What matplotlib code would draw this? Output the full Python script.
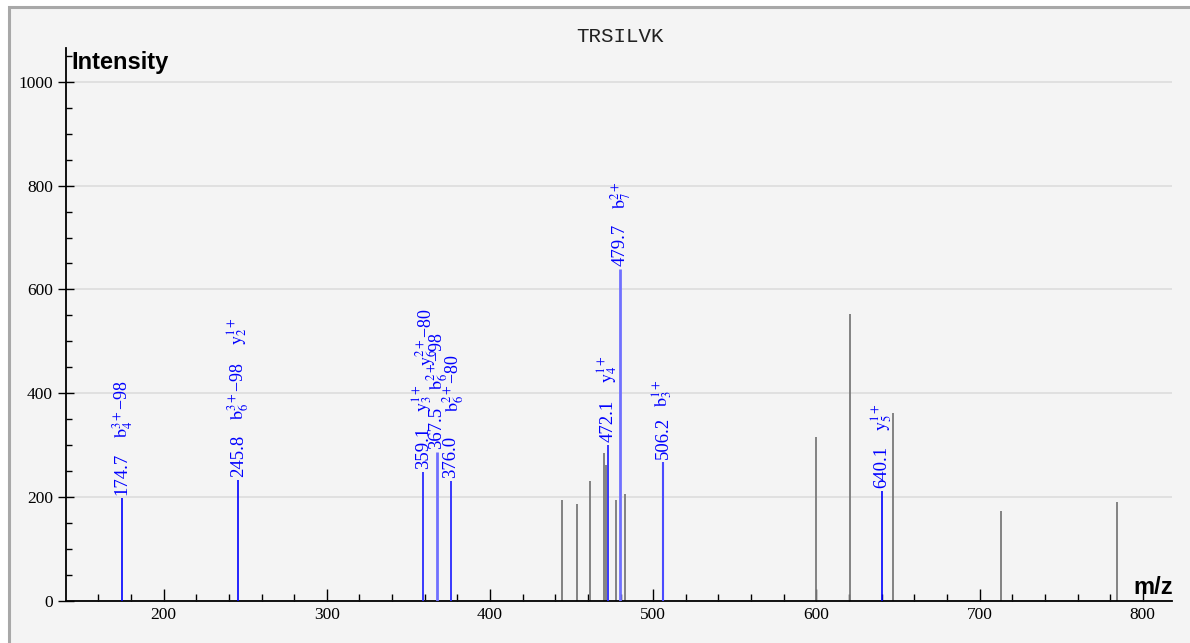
import matplotlib
matplotlib.use('Agg')
import matplotlib.pyplot as plt
from matplotlib.patches import Rectangle
from matplotlib.ticker import MultipleLocator

plt.rcParams['font.family'] = ['Liberation Serif', 'DejaVu Serif']
plt.rcParams['mathtext.fontset'] = 'stix'

# annotated (matched) peaks
mz_annot = [174.7, 245.8, 359.1, 367.5, 376.0, 472.1, 479.7, 506.2, 640.1]
int_annot = [199, 233, 248, 286, 231, 300, 640, 268, 212]
ion_labels = [
    ['$\\mathrm{b}_{4}^{3+}$\u221298'],
    ['$\\mathrm{b}_{6}^{3+}$\u221298', '$\\mathrm{y}_{2}^{1+}$'],
    ['$\\mathrm{y}_{3}^{1+}$'],
    ['$\\mathrm{b}_{6}^{2+}$\u221298', '$\\mathrm{y}_{6}^{2+}$\u221280'],
    ['$\\mathrm{b}_{6}^{2+}$\u221280'],
    ['$\\mathrm{y}_{4}^{1+}$'],
    ['$\\mathrm{b}_{7}^{2+}$'],
    ['$\\mathrm{b}_{3}^{1+}$'],
    ['$\\mathrm{y}_{5}^{1+}$'],
]

# unmatched peaks
mz_other = [443.9, 453.1, 461.1, 469.9, 471.0, 477.0, 482.7, 599.7, 620.8, 646.8, 713.0, 784.2]
int_other = [195, 187, 232, 285, 261, 195, 207, 316, 552, 363, 174, 191]

peptide = 'TRSILVK'

# label placement in pixels above the peak top (style only)
label_offsets = [
    [(0, 60)],
    [(0, 60), (0, 135)],
    [(0, 60)],
    [(0, 62), (-11, 86)],
    [(2, 69)],
    [(0, 62)],
    [(0, 60)],
    [(0, 55)],
    [(0, 60)],
]
line_colors = ['#0000ff', '#0000ff', '#2a2aff', '#7070ff', '#2a2aff',
               '#2a2aff', '#7070ff', '#4a4aff', '#0000ff']
line_widths = [1.2, 1.2, 1.3, 2.0, 1.3, 1.3, 2.0, 1.5, 1.2]

W, H = 1190, 643
fig = plt.figure(figsize=(W / 100, H / 100), dpi=100, facecolor='white')

# panel background with grey border (left/top visible)
bg = Rectangle((8.5 / W, -0.05), 1.1, (H - 6.5) / H + 0.05, transform=fig.transFigure,
               facecolor='#f4f4f4', edgecolor='#a8a8a8', linewidth=2.2, zorder=-1)
fig.patches.append(bg)

ax = fig.add_axes([66 / W, 42 / H, 1106 / W, 553 / H])
ax.set_facecolor('none')
ax.set_xlim(140.2, 817.9)
ax.set_ylim(0, 1065)

ax.vlines(mz_other, 0, int_other, color='#7a7a7a', linewidth=1.3, zorder=2)
for mz, inten, c, lw in zip(mz_annot, int_annot, line_colors, line_widths):
    ax.vlines(mz, 0, inten, color=c, linewidth=lw, zorder=3)

for mz, inten, labels, offs in zip(mz_annot, int_annot, ion_labels, label_offsets):
    ax.annotate(f'{mz:.1f}', xy=(mz, inten), xytext=(0, 3), textcoords='offset pixels',
                rotation=90, ha='center', va='bottom', color='#0000ff', fontsize=13.5,
                zorder=4)
    for lab, (dx, dy) in zip(labels, offs):
        ax.annotate(lab, xy=(mz, inten), xytext=(dx, dy), textcoords='offset pixels',
                    rotation=90, ha='center', va='bottom', color='#0000ff',
                    fontsize=13, zorder=4)

for s in ['top', 'right']:
    ax.spines[s].set_visible(False)
for s in ['left', 'bottom']:
    ax.spines[s].set_linewidth(1.3)
    ax.spines[s].set_color('black')

ax.xaxis.set_major_locator(MultipleLocator(100))
ax.xaxis.set_minor_locator(MultipleLocator(20))
ax.yaxis.set_major_locator(MultipleLocator(200))
ax.yaxis.set_minor_locator(MultipleLocator(50))
ax.tick_params(axis='x', which='major', direction='in', length=8.5, width=1, pad=4, labelsize=12.5)
ax.tick_params(axis='x', which='minor', direction='in', length=5, width=1)
ax.tick_params(axis='y', which='major', direction='inout', length=11, width=1, pad=4, labelsize=12.5)
ax.tick_params(axis='y', which='minor', direction='in', length=4, width=1)

ax.grid(True, axis='y', which='major', color='#dcdcdc', linewidth=1.2, zorder=0)
ax.set_axisbelow(True)

fig.text(620 / W, 1 - 37 / H, peptide, family='Liberation Mono', fontsize=15,
         ha='center', va='center', color='#222222')
fig.text(71 / W, 1 - 62 / H, 'Intensity', family='Liberation Sans', fontweight='bold',
         fontsize=17, ha='left', va='center')
fig.text(1173 / W, 1 - 588 / H, 'm/z', family='Liberation Sans', fontweight='bold',
         fontsize=17, ha='right', va='center')

fig.savefig('out.png', dpi=100, facecolor='white')
